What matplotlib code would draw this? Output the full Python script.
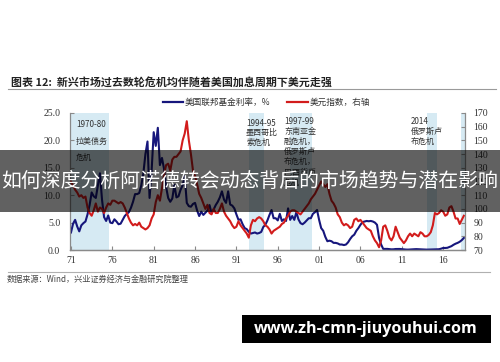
import numpy as np
import matplotlib
matplotlib.use('Agg')
import matplotlib.pyplot as plt
from matplotlib.lines import Line2D
from matplotlib.patches import Rectangle

plt.rcParams['font.family'] = ['Noto Sans CJK SC', 'DejaVu Sans']

# quarterly observations, 1971Q1 .. 2018Q3
quarters = 1971 + np.arange(191) * 0.25

# US fed funds rate, %
fed_funds = [
    3.2, 4.8, 5.5, 4.3,   3.4, 4.5, 4.9, 5.2,   6.5, 8.2, 10.5, 9.8,
    9.5, 11.8, 14.0, 9.2,   6.0, 5.3, 6.3, 5.0,   4.9, 5.6, 5.2, 4.7,
    4.8, 5.5, 6.2, 6.6,   6.9, 7.7, 8.8, 10.2,   10.2, 10.4, 11.8, 14.0,
    17.5, 19.8, 9.5, 14.5,   21.5, 19.0, 22.3, 15.5,   16.8, 14.8, 11.5, 9.5,
    8.8, 9.4, 11.9, 9.6,   9.8, 11.0, 11.8, 13.5,   8.6, 8.0, 7.9, 8.4,
    8.6, 7.2, 6.2, 7.0,   6.4, 6.8, 7.2, 8.2,   6.7, 7.4, 8.2, 8.8,
    9.6, 10.7, 9.2, 8.6,   10.7, 8.3, 8.1, 7.6,   6.5, 5.5, 5.6, 4.7,
    4.0, 3.8, 3.3, 3.0,   3.1, 3.2, 3.0, 3.1,   3.3, 4.2, 4.6, 5.4,
    6.4, 7.3, 5.8, 5.8,   5.4, 6.6, 5.3, 5.6,   5.3, 7.6, 5.5, 6.2,
    5.5, 6.9, 5.6, 4.9,   4.7, 5.0, 5.4, 5.8,   5.8, 6.6, 6.9, 7.3,
    5.5, 4.0, 3.5, 2.4,   1.6, 1.7, 1.6, 1.3,   1.3, 1.2, 1.0, 1.0,
    0.9, 1.0, 1.4, 2.0,   2.5, 2.8, 3.5, 4.0,   4.6, 5.1, 5.2, 5.3,
    5.25, 5.3, 5.2, 5.0,   4.6, 2.2, 1.0, 0.2,   0.2, 0.2, 0.15, 0.12,
    0.13, 0.18, 0.19, 0.19,   0.15, 0.09, 0.08, 0.07,   0.1, 0.15, 0.14, 0.16,
    0.14, 0.11, 0.08, 0.09,   0.07, 0.09, 0.09, 0.1,   0.11, 0.13, 0.14, 0.24,
    0.37, 0.37, 0.4, 0.54,   0.7, 0.95, 1.15, 1.3,   1.5, 1.8, 2.2,
]

# US dollar index, right axis
usd_index = [
    120, 117, 114, 112,   109, 110, 108, 109,   101, 97, 95, 99,
    104, 98, 101, 100,   97, 101, 104, 103,   106, 106, 105, 104,
    105, 104, 101, 97,   93, 90, 88, 89,   88, 90, 87, 86,
    85, 86, 88, 93,   96, 105, 110, 106,   115, 125, 132, 133,
    128, 136, 138, 138,   140, 142, 150, 155,   164, 150, 140, 128,
    124, 118, 111, 108,   104, 100, 103, 97,   96, 100, 97, 97,
    100, 104, 98, 95,   93, 91, 88, 86,   87, 91, 88, 86,
    84, 82, 79, 88,   92, 91, 93, 94,   93, 91, 88, 87,
    85, 82, 84, 85,   86, 87, 89, 90,   93, 95, 98, 99,
    99, 98, 97, 96,   98, 100, 102, 104,   107, 109, 111, 114,
    117, 120, 118, 116,   118, 111, 106, 104,   101, 96, 94, 90,
    88, 89, 88, 86,   87, 92, 93, 91,   92, 90, 88, 86,
    85, 84, 80, 77,   75, 72, 77, 87,   88, 84, 79, 77,
    80, 87, 83, 79,   77, 75, 77, 80,   82, 80, 82, 81,
    80, 83, 82, 80,   80, 81, 83, 88,   97, 96, 97, 99,
    98, 95, 96, 101,   102, 98, 93, 93,   89, 92, 95,
]

tick_years = [1971, 1976, 1981, 1986, 1991, 1996, 2001, 2006, 2011, 2016]
tick_labels = ['71', '76', '81', '86', '91', '96', '01', '06', '11', '16']

crisis_start = [1970.88, 1992.55, 1997.48, 2014.05, 2018.2]
crisis_end = [1975.6, 1994.3, 2000.14, 2015.26, 2018.64]
crisis_text = [
    ['1970-80', '拉美债务', '危机'],
    ['1994-95', '墨西哥比', '索危机'],
    ['1997-99', '东南亚金', '融危机，', '俄罗斯卢', '布危机，', '巴西货币', '危机'],
    ['2014', '俄罗斯卢', '布危机'],
]

blue = '#16167c'
red = '#d21c1c'
shade = '#d6eaf3'
grey = '#8a8a8a'
W, H = 500, 362

fig = plt.figure(figsize=(5, 3.62), dpi=100)
ax = fig.add_axes([70 / W, 1 - 250 / H, 395 / W, 137 / H])
ax2 = ax.twinx()

for s, e in zip(crisis_start, crisis_end):
    ax.axvspan(s, e, color=shade, lw=0, zorder=0)

ax.plot(quarters, fed_funds, color=blue, lw=1.5)
ax2.plot(quarters, usd_index, color=red, lw=1.5)

ax.set_xlim(1970.88, 2018.64)
ax.set_ylim(0, 25)
ax2.set_ylim(70, 170)

serif = 'Liberation Serif'
ax.set_xticks(tick_years)
ax.set_xticklabels(tick_labels, family=serif, fontsize=7, color='#333333')
ax.set_yticks([0, 5, 10, 15, 20, 25])
ax.set_yticklabels(['%.1f' % v for v in [0, 5, 10, 15, 20, 25]],
                   family=serif, fontsize=7, color='#333333')
ax2.set_yticks(range(70, 171, 10))
ax2.set_yticklabels([str(v) for v in range(70, 171, 10)],
                    family=serif, fontsize=7, color='#333333')

ax.tick_params(axis='x', direction='in', length=3, color=grey, pad=4)
ax.tick_params(axis='y', direction='in', length=3, color=grey, pad=7)
ax2.tick_params(axis='y', direction='in', length=3, color=grey, pad=6)

for a in (ax, ax2):
    a.spines['top'].set_visible(False)
    for sp in a.spines.values():
        sp.set_color(grey)
        sp.set_linewidth(0.9)
ax2.spines['left'].set_visible(False)
ax.spines['right'].set_visible(False)

# crisis notes
note_pos = [(76, 125, 16), (246, 123, 9.8), (284, 121, 10.2), (411, 121, 10)]
for (x0, y0, step), lines in zip(note_pos, crisis_text):
    for i, line in enumerate(lines):
        fig.text(x0 / W, 1 - (y0 + i * step) / H, line, fontsize=5.8,
                 color='#333333', va='center', ha='left')

# title
fig.text(11 / W, 1 - 82 / H, '图表 12:  新兴市场过去数轮危机均伴随着美国加息周期下美元走强',
         fontsize=7.9, fontweight='bold', color='#222222', va='center')
fig.add_artist(Line2D([8 / W, 496 / W], [1 - 89 / H] * 2, color='#9a9a9a', lw=0.8))

# legend
fig.add_artist(Line2D([163 / W, 183 / W], [1 - 102 / H] * 2, color=blue, lw=1.6))
fig.text(185 / W, 1 - 102 / H, '美国联邦基金利率，%', fontsize=6.2, color='#333333', va='center')
fig.add_artist(Line2D([287 / W, 308 / W], [1 - 102 / H] * 2, color=red, lw=1.6))
fig.text(310 / W, 1 - 102 / H, '美元指数，右轴', fontsize=6.2, color='#333333', va='center')

# source
fig.add_artist(Line2D([8 / W, 490 / W], [1 - 272 / H] * 2, color='#b0b0b0', lw=0.8))
fig.text(7 / W, 1 - 279 / H, '数据来源：Wind，兴业证券经济与金融研究院整理',
         fontsize=5.9, color='#444444', va='center')

# overlay banner
fig.add_artist(Rectangle((0, 1 - 212 / H), 1, 62 / H, transform=fig.transFigure,
                         facecolor='black', alpha=0.62, lw=0, zorder=10))
fig.text(0.5, 1 - 181 / H, '如何深度分析阿诺德转会动态背后的市场趋势与潜在影响',
         fontsize=14.3, color='white', ha='center', va='center', zorder=11)

# watermark
fig.add_artist(Rectangle((242 / W, 1 - 343 / H), 249 / W, 28 / H, transform=fig.transFigure,
                         facecolor='black', lw=0, zorder=10))
fig.text(366 / W, 1 - 329 / H, 'www.zh-cmn-jiuyouhui.com', family='Open Sans',
         fontsize=11.6, fontweight='bold', color='white', ha='center', va='center', zorder=11)

fig.savefig('out.png', dpi=100)
